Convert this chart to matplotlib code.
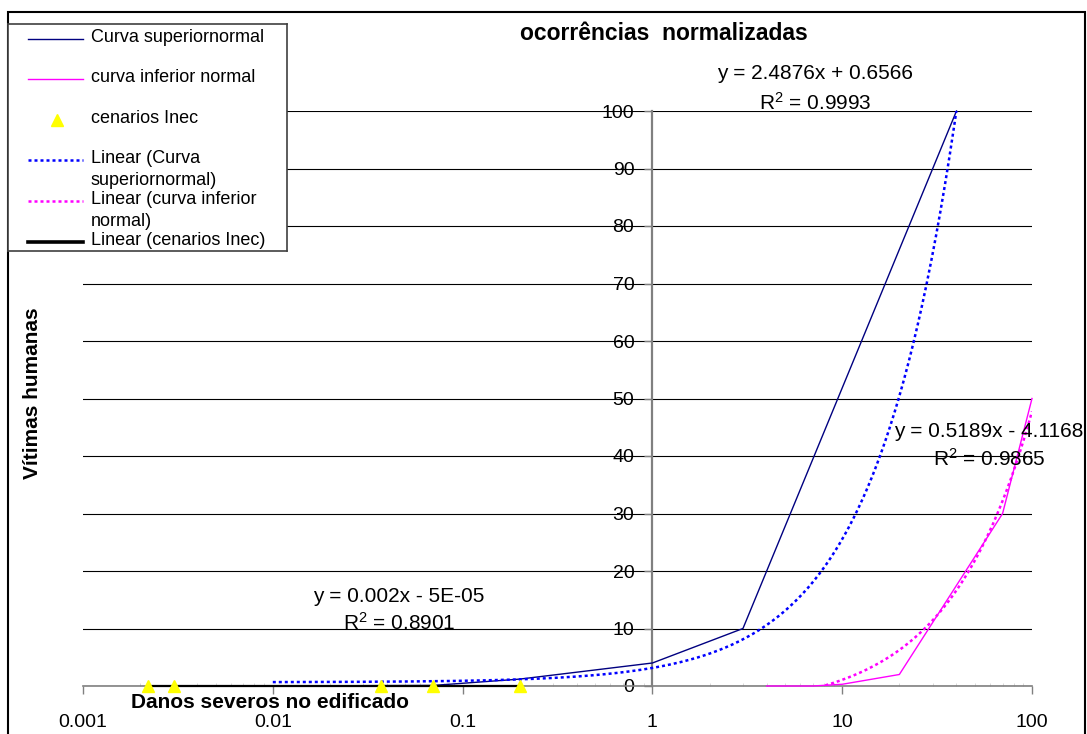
import numpy as np
import matplotlib.pyplot as plt
from matplotlib.patches import Rectangle
from matplotlib.ticker import LogLocator, FixedLocator

plt.rcParams['font.family'] = ['Liberation Sans', 'DejaVu Sans']
plt.rcParams['mathtext.fontset'] = 'custom'
plt.rcParams['mathtext.rm'] = 'Liberation Sans'
plt.rcParams['mathtext.it'] = 'Liberation Sans:italic'

# Curva superiornormal
sup_x = [0.01, 0.07, 0.2, 1, 3, 40]
sup_y = [0, 0.1, 1.2, 4, 10, 100]
# curva inferior normal
inf_x = [4, 7, 10, 20, 70, 100]
inf_y = [0, 0, 0.3, 2, 30, 50]
# cenarios Inec
inec_x = [0.0022, 0.003, 0.037, 0.07, 0.2]
inec_y = [0, 0, 0.00005, 0.0001, 0.0004]

# linear trendlines as printed on the chart (slope, intercept)
sup_fit = (2.4876, 0.6566)
inf_fit = (0.5189, -4.1168)
inec_fit = (0.002, -5e-05)
eq_labels = ['y = 2.4876x + 0.6566', 'y = 0.5189x - 4.1168', 'y = 0.002x - 5E-05']
r2_labels = ['0.9993', '0.9865', '0.8901']

x_ticks = [0.001, 0.01, 0.1, 1, 10, 100]
x_ticklabels = ['0.001', '0.01', '0.1', '1', '10', '100']
y_ticks = [0, 10, 20, 30, 40, 50, 60, 70, 80, 90, 100]

NAVY = '#000080'
MAGENTA = '#FF00FF'
BLUE = '#0000FF'
YELLOW = '#FFFF00'
GREY = '#808080'
DOT = (0, (1.2, 1.2))

W, H = 1087, 734


def fx(px):
    return px / W


def fy(py):
    return 1 - py / H


def trend(xs, fit):
    xx = np.geomspace(min(xs), max(xs), 300)
    return xx, fit[0] * xx + fit[1]


fig = plt.figure(figsize=(W / 100, H / 100), dpi=100)
fig.patches.append(Rectangle((fx(8), -0.1), fx(1085 - 8), fy(12) + 0.1,
                             transform=fig.transFigure, fill=False,
                             ec='black', lw=1.5))

ax = fig.add_axes([fx(83), fy(686), fx(1032 - 83), (686 - 111) / H])
ax.set_xscale('log')
ax.set_xlim(0.001, 100)
ax.set_ylim(0, 100)

ax.plot(sup_x, sup_y, color=NAVY, lw=1.0, zorder=5, clip_on=False)
ax.plot(inf_x, inf_y, color=MAGENTA, lw=1.0, zorder=5, clip_on=False)
ax.plot(*trend(sup_x, sup_fit), color=BLUE, lw=1.8, ls=DOT, zorder=5)
ax.plot(*trend(inf_x, inf_fit), color=MAGENTA, lw=1.8, ls=DOT, zorder=5)
ax.plot(*trend(inec_x, inec_fit), color='black', lw=1.6, zorder=5,
        clip_on=False)
ax.plot(inec_x, inec_y, ls='none', marker='^', ms=9, color=YELLOW,
        mec=YELLOW, zorder=6, clip_on=False)

ax.spines['top'].set_visible(False)
ax.spines['right'].set_visible(False)
ax.spines['left'].set_position(('data', 1))
ax.spines['left'].set_color(GREY)
ax.spines['left'].set_linewidth(1.6)
ax.spines['bottom'].set_color(GREY)
ax.spines['bottom'].set_linewidth(1.2)
ax.spines['left'].set_zorder(4)
ax.spines['bottom'].set_zorder(4)

ax.xaxis.set_major_locator(FixedLocator(x_ticks))
ax.set_xticklabels(x_ticklabels)
ax.xaxis.set_minor_locator(LogLocator(base=10, subs=np.arange(2, 10)))
ax.tick_params(axis='x', which='major', direction='out', length=6, width=1,
               color=GREY, labelsize=14, pad=14)
ax.tick_params(axis='x', which='minor', direction='in', length=2.5, width=0.5,
               color='#c8c8c8', labelbottom=False)
ax.set_yticks(y_ticks)
ax.tick_params(axis='y', direction='out', length=6, width=1, color=GREY,
               labelsize=14, pad=7)
ax.yaxis.grid(True, color='black', lw=0.8)
ax.set_axisbelow(True)

# equation labels
eq_pos = [(815, 79, 110), (989, 437, 466), (399, 602, 630)]
for (cx, by1, by2), eq, r2 in zip(eq_pos, eq_labels, r2_labels):
    fig.text(fx(cx), fy(by1), eq, fontsize=15, ha='center', va='baseline')
    fig.text(fx(cx), fy(by2), r'R$^2$ = ' + r2, fontsize=15, ha='center',
             va='baseline')

fig.text(fx(664), fy(40), 'ocorrências  normalizadas', fontsize=16.5,
         fontweight='bold', ha='center', va='baseline')
fig.text(fx(270), fy(708), 'Danos severos no edificado', fontsize=15,
         fontweight='bold', ha='center', va='baseline')
fig.text(fx(33), fy(393), 'Vítimas humanas', fontsize=15, fontweight='bold',
         rotation=90, ha='center', va='center')

# legend box
lax = fig.add_axes([fx(8), fy(251), fx(279), (251 - 24) / H], zorder=10)
lax.set_xlim(0, 279)
lax.set_ylim(227, 0)
lax.set_xticks([])
lax.set_yticks([])
for s in lax.spines.values():
    s.set_color('#404040')
    s.set_linewidth(1.2)

entries = [
    (dict(color=NAVY, lw=1.0), 15, ['Curva superiornormal']),
    (dict(color=MAGENTA, lw=1.0), 55, ['curva inferior normal']),
    (dict(ls='none', marker='^', ms=9, color=YELLOW), 96, ['cenarios Inec']),
    (dict(color=BLUE, lw=1.8, ls=DOT), 136, ['Linear (Curva', 'superiornormal)']),
    (dict(color=MAGENTA, lw=1.8, ls=DOT), 177, ['Linear (curva inferior', 'normal)']),
    (dict(color='black', lw=2.6), 218, ['Linear (cenarios Inec)']),
]
for style, hy, lines in entries:
    if style.get('marker'):
        lax.plot([49], [hy], **style)
    else:
        lax.plot([20, 75], [hy, hy], **style)
    for i, line in enumerate(lines):
        lax.text(83, hy + 3 + 22 * i, line, fontsize=13, va='baseline')

fig.savefig('out.png', dpi=100)
